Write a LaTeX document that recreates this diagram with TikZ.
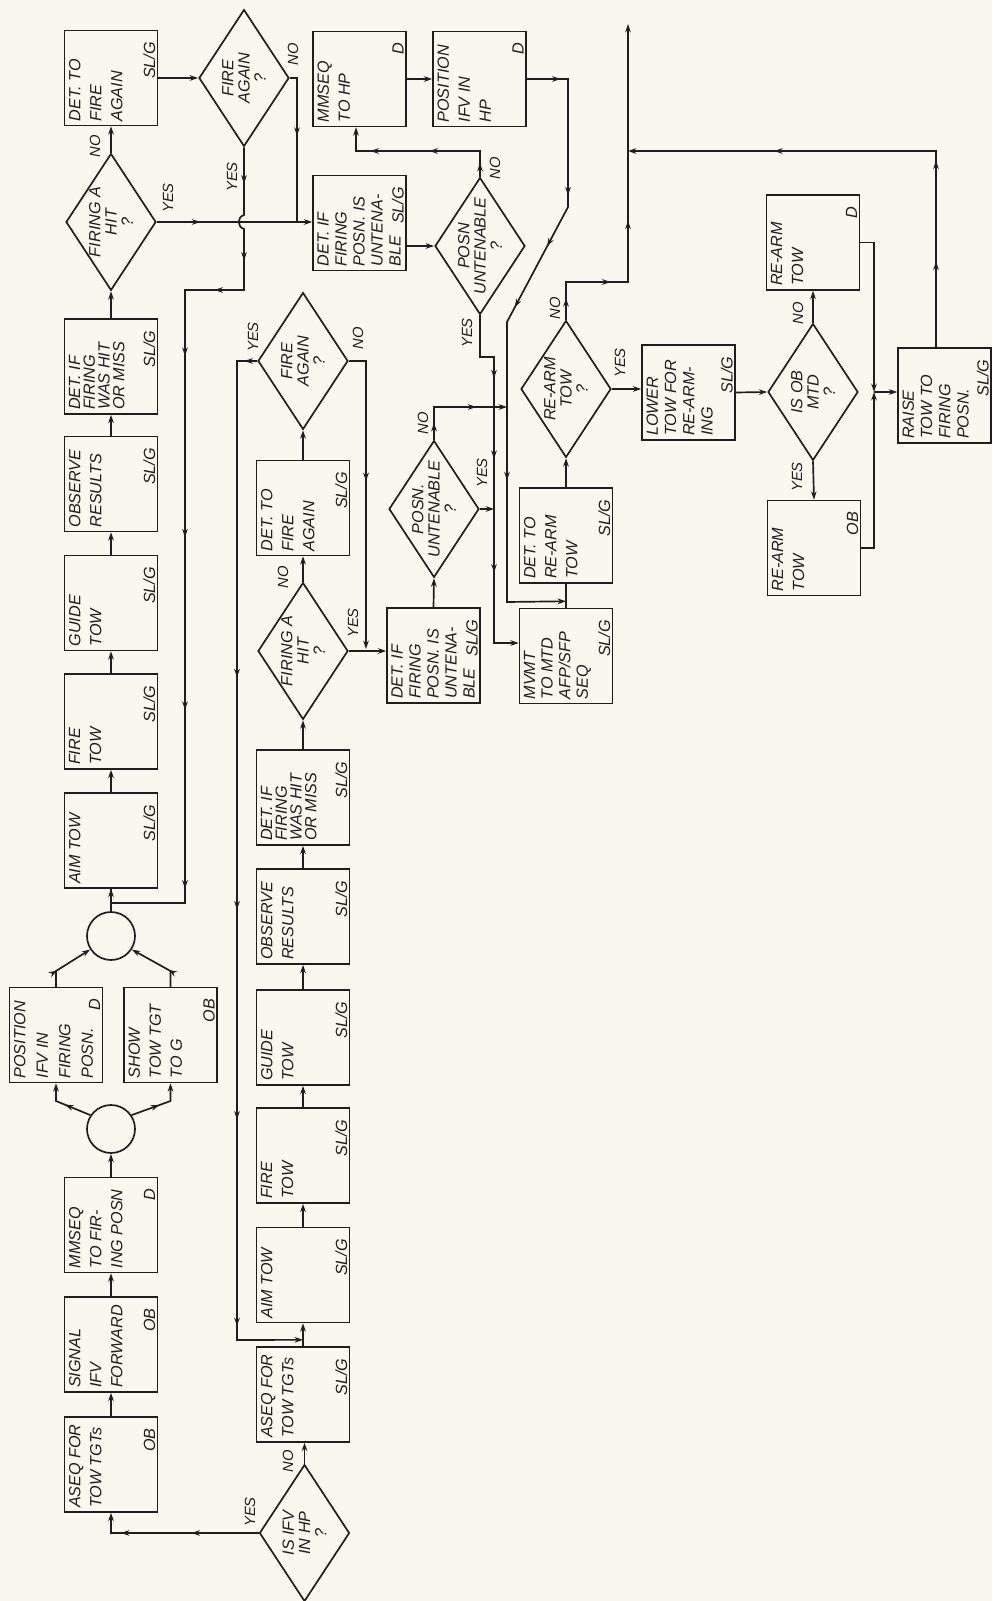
\documentclass[tikz,border=0pt]{standalone}
\usepackage{fontspec}
\setmainfont{Liberation Sans}
\usepackage{tikz}
\usetikzlibrary{calc,shapes.geometric,arrows.meta,decorations.markings}
\definecolor{cPaper}{HTML}{F8F8EE}
\definecolor{cInk}{HTML}{1E1E1E}
\newcommand{\boxtxt}[1]{\parbox[c][2.1cm][t]{2.17cm}{\raggedright #1}}
\tikzset{
  box/.style={draw=cInk,line width=1.2pt,rotate=90,minimum width=2.37cm,minimum height=2.32cm,inner sep=0pt,text=cInk,font=\fontsize{11.5}{15}\selectfont\itshape},
  packed/.style={font=\fontsize{11.5}{10.5}\selectfont\itshape},
  midsp/.style={font=\fontsize{11.5}{12.8}\selectfont\itshape},
  widesp/.style={font=\fontsize{11.5}{16}\selectfont\itshape},
  role/.style={rotate=90,anchor=south east,inner xsep=0.3cm,inner ysep=0.07cm,text=cInk,font=\fontsize{11.5}{13}\selectfont\itshape},
  dia/.style={diamond,draw=cInk,line width=1.2pt,rotate=90,minimum width=3.42cm,minimum height=2.25cm,inner sep=0pt},
  dtext/.style={rotate=90,anchor=center,align=center,inner sep=0pt,text=cInk,font=\fontsize{11.5}{11.5}\selectfont\itshape},
  junc/.style={circle,draw=cInk,line width=1.2pt,minimum size=1.2cm,inner sep=0pt},
  yn/.style={rotate=90,inner sep=0pt,text=cInk,font=\fontsize{10.5}{12}\selectfont\itshape},
  wire/.style={color=cInk,line width=1.2pt},
  flow/.style={wire,->},
  marr/.style={postaction={decorate,decoration={markings,mark=at position #1 with {\arrow{>}}}}},
}
\begin{document}
\begin{tikzpicture}[x=0.025cm,y=-0.025cm,>={Stealth[length=6pt,width=4pt]}]
  \fill[cPaper] (0,0) rectangle (992,1601);
  \useasboundingbox (0,0) rectangle (992,1601);
  % first row
  \node[box,label={[role]south east:OB}] (aseqA) at (111,1464.5) {\boxtxt{ASEQ FOR\\TOW TGTs}};
  \node[box,label={[role]south east:OB}] (signal) at (111,1344.5) {\boxtxt{SIGNAL\\IFV\\FORWARD}};
  \node[box,label={[role]south east:D}] (mmseqA) at (111,1225) {\boxtxt{MMSEQ\\TO FIR-\\ING POSN}};
  \node[junc] (joinB) at (111,1129) {};
  \node[box,widesp,label={[role]south east:D}] (posfire) at (56,1035) {\boxtxt{POSITION\\IFV IN\\FIRING\\POSN.}};
  \node[box,label={[role]south east:OB}] (showtgt) at (170.5,1035) {\boxtxt{SHOW\\TOW TGT\\TO G}};
  \node[junc] (joinA) at (111,936) {};
  \node[box,label={[role]south east:SL/G}] (aimA) at (111,840.5) {\boxtxt{AIM TOW}};
  \node[box,label={[role]south east:SL/G}] (fireA) at (111,721.5) {\boxtxt{FIRE\\TOW}};
  \node[box,label={[role]south east:SL/G}] (guideA) at (111,603) {\boxtxt{GUIDE\\TOW}};
  \node[box,label={[role]south east:SL/G}] (obsA) at (111,484) {\boxtxt{OBSERVE\\RESULTS}};
  \node[box,packed,label={[role]south east:SL/G}] (detA) at (111,366.5) {\boxtxt{DET. IF\\FIRING\\WAS HIT\\OR MISS}};
  \node[dia,label={[dtext]center:{FIRING A\\HIT\\?}}] (hitA) at (111,222) {};
  \node[box,label={[role]south east:SL/G}] (againA) at (111,78) {\boxtxt{DET. TO\\FIRE\\AGAIN}};
  \node[dia,label={[dtext]center:{FIRE\\AGAIN\\?}}] (fagA) at (244,78) {};
  \node[box,label={[role]south east:D}] (mmseqHP) at (359.5,79) {\boxtxt{MMSEQ\\TO HP}};
  \node[box,label={[role]south east:D}] (posHP) at (479.5,79) {\boxtxt{POSITION\\IFV IN\\HP}};
  \node[box,midsp,label={[role]south east:SL/G}] (untenA) at (359.5,223) {\boxtxt{DET. IF\\FIRING\\POSN. IS\\UNTENA-\\BLE}};
  \node[dia,label={[dtext]center:{POSN\\UNTENABLE\\?}}] (posnA) at (480,246) {};
  % second row
  \node[dia,label={[dtext]center:{IS IFV\\IN HP\\?}}] (isifv) at (304.5,1533) {};
  \node[box,label={[role]south east:SL/G}] (aseqB) at (303,1394.5) {\boxtxt{ASEQ FOR\\TOW TGTs}};
  \node[box,label={[role]south east:SL/G}] (aimB) at (303,1275) {\boxtxt{AIM TOW}};
  \node[box,label={[role]south east:SL/G}] (fireB) at (303,1155.5) {\boxtxt{FIRE\\TOW}};
  \node[box,label={[role]south east:SL/G}] (guideB) at (303,1037.5) {\boxtxt{GUIDE\\TOW}};
  \node[box,label={[role]south east:SL/G}] (obsB) at (303,916.5) {\boxtxt{OBSERVE\\RESULTS}};
  \node[box,packed,label={[role]south east:SL/G}] (detB) at (303,797.5) {\boxtxt{DET. IF\\FIRING\\WAS HIT\\OR MISS}};
  \node[dia,label={[dtext]center:{FIRING A\\HIT\\?}}] (hitB) at (303,651) {};
  \node[box,label={[role]south east:SL/G}] (againB) at (303,508) {\boxtxt{DET. TO\\FIRE\\AGAIN}};
  \node[dia,label={[dtext]center:{FIRE\\AGAIN\\?}}] (fagB) at (303,361) {};
  \node[box,midsp,label={[role]south east:SL/G}] (untenB) at (433.5,655.5) {\boxtxt{DET. IF\\FIRING\\POSN. IS\\UNTENA-\\BLE}};
  \node[dia,label={[dtext]center:{POSN.\\UNTENABLE\\?}}] (posnB) at (434,509) {};
  \node[box,font=\fontsize{11.5}{12.5}\selectfont\itshape,label={[role]south east:SL/G}] (mvmt) at (566,656) {\boxtxt{MVMT\\TO MTD\\AFP/SFP\\SEQ}};
  \node[box,label={[role]south east:SL/G}] (detrearm) at (566,535.5) {\boxtxt{DET. TO\\RE-ARM\\TOW}};
  \node[dia,label={[dtext]center:{RE-ARM\\TOW\\?}}] (rearm) at (566,389) {};
  \node[box,font=\fontsize{11.5}{13}\selectfont\itshape,label={[role]south east:SL/G}] (lowertow) at (688.5,392.5) {\boxtxt{LOWER\\TOW FOR\\RE-ARM-\\ING}};
  \node[dia,label={[dtext]center:{IS OB\\MTD\\?}}] (isob) at (813,392) {};
  \node[box,label={[role]south east:D}] (rearmD) at (813,242.5) {\boxtxt{RE-ARM\\TOW}};
  \node[box,label={[role]south east:OB}] (rearmOB) at (814,548) {\boxtxt{RE-ARM\\TOW}};
  \node[box,font=\fontsize{11.5}{13}\selectfont\itshape,label={[role]south east:SL/G}] (raisetow) at (944.5,395.5) {\boxtxt{RAISE\\TOW TO\\FIRING\\POSN.}};
  \coordinate (jA) at ($(aseqB.east)!0.28!(aimB.west)$);
  \coordinate (jB) at ($(mvmt.east)!0.27!(detrearm.west)$);
  \coordinate (jC) at (874,392);
  \coordinate (jD) at (628,151);
  \coordinate (exitT) at (628,24);
  % straight runs
  \foreach \a/\b in {aseqA/signal,signal/mmseqA,aimA/fireA,fireA/guideA,guideA/obsA,obsA/detA,detA/hitA,hitA/againA,
                     aseqB/aimB,aimB/fireB,fireB/guideB,guideB/obsB,obsB/detB,detB/hitB,hitB/againB,againB/fagB,
                     untenB/posnB,detrearm/rearm,isob/rearmD}
    \draw[flow] (\a.east) -- (\b.west);
  \foreach \a/\b in {againA/fagA,mmseqHP/posHP,lowertow/isob}
    \draw[flow] (\a.south) -- (\b.north);
  \draw[flow] (mmseqA.east) -- (joinB.south);
  \draw[flow,marr=0.5] (joinB.146) -- (posfire.west |- 0,1101) -- (posfire.west);
  \draw[flow,marr=0.5] (joinB.34) -- (showtgt.west |- 0,1101) -- (showtgt.west);
  \draw[flow,marr=0.3] (posfire.east) -- (posfire.east |- 0,971) -- (joinA.213);
  \draw[flow,marr=0.3] (showtgt.east) -- (showtgt.east |- 0,971) -- (joinA.327);
  \draw[wire] (joinA.north) -- (aimA.west);
  \draw[flow,marr=0.4,marr=0.82] (isifv.north) -| (aseqA.west);
  \draw[flow] (isifv.east) -- (isifv.east |- aseqB.west);
  \draw[flow] (isob.west) -- (rearmOB.east);
  \draw[wire] (mvmt.east) -- (detrearm.west);
  % loops
  \draw[flow,marr=0.28] (hitA.south) -- (hitA.south -| untenA.north);
  \draw[wire,marr=0.43] (fagA.south) -- (297,78) -- (297,222);
  \draw[flow,marr=0.04,marr=0.13,marr=0.195,marr=0.3,marr=0.5,marr=0.69,marr=0.887]
    (fagA.west) -- (244,215) .. controls (237,217) and (237,227) .. (244,229) -- (244,290) -- (185,290) -- (185,903) -| (aimA.west);
  \draw[flow] (untenA.south |- posnA.north) -- (posnA.north);
  \draw[flow,marr=0.08,marr=0.44,marr=0.78] (posnA.east) -- (480,151) -| (356,0 |- mmseqHP.west);
  \draw[flow,marr=0.053,marr=0.247,marr=0.335,marr=0.443,marr=0.717]
    (posHP.south) -- (568,79) -- (568,207) -- (507,322) -- (507,602) -- (jB);
  \draw[flow,marr=0.21,marr=0.43,marr=0.74] (posnA.west) -- (480,357) -- (494,357) -- (494,643) -- (mvmt.north |- 0,643);
  \draw[flow] (posnB.south) -- (posnB.south -| 494,0);
  \draw[flow,marr=0.16,marr=0.71] (posnB.east) -- (434,407) -- (507,407);
  \draw[flow] (hitB.south) -- (hitB.south -| untenB.north);
  \draw[flow,marr=0.45] (fagB.south) -- (366,361) -- (366,649);
  \draw[flow,marr=0.012,marr=0.316,marr=0.534,marr=0.731,marr=0.925] (fagB.north) -- (237,361) -- (237,1340) -- (jA);
  \draw[flow] (rearm.south) -- (rearm.south -| lowertow.north);
  \draw[flow,marr=0.06,marr=0.23,marr=0.45] (rearm.east) -- (566,282) -| (exitT);
  \draw[flow,marr=0.17,marr=0.37,marr=0.71] (936,0 |- raisetow.east) -- (936,151) -- (jD);
  \draw[flow] (rearmD.south) -| (jC);
  \draw[flow] (rearmOB.south) -| (jC);
  \draw[flow] (jC) -- (jC -| raisetow.north);
  % yes / no
  \node[yn] (isifvY) at (250,1512) {YES};
  \node[yn] (isifvN) at (288,1461) {NO};
  \node[yn] (hitAN) at (95,146) {NO};
  \node[yn] (hitAY) at (168,198) {YES};
  \node[yn] (fagAN) at (293,54) {NO};
  \node[yn] (fagAY) at (232,177) {YES};
  \node[yn] (posnAN) at (495,168) {NO};
  \node[yn] (posnAY) at (467,333) {YES};
  \node[yn] (fagBY) at (253,337) {YES};
  \node[yn] (fagBN) at (358,338) {NO};
  \node[yn] (hitBN) at (283,577) {NO};
  \node[yn] (hitBY) at (353,623) {YES};
  \node[yn] (posnBN) at (423,423) {NO};
  \node[yn] (posnBY) at (482,473) {YES};
  \node[yn] (rearmN) at (555,308) {NO};
  \node[yn] (rearmY) at (620,363) {YES};
  \node[yn] (isobN) at (798,313) {NO};
  \node[yn] (isobY) at (797,477) {YES};
\end{tikzpicture}
\end{document}
